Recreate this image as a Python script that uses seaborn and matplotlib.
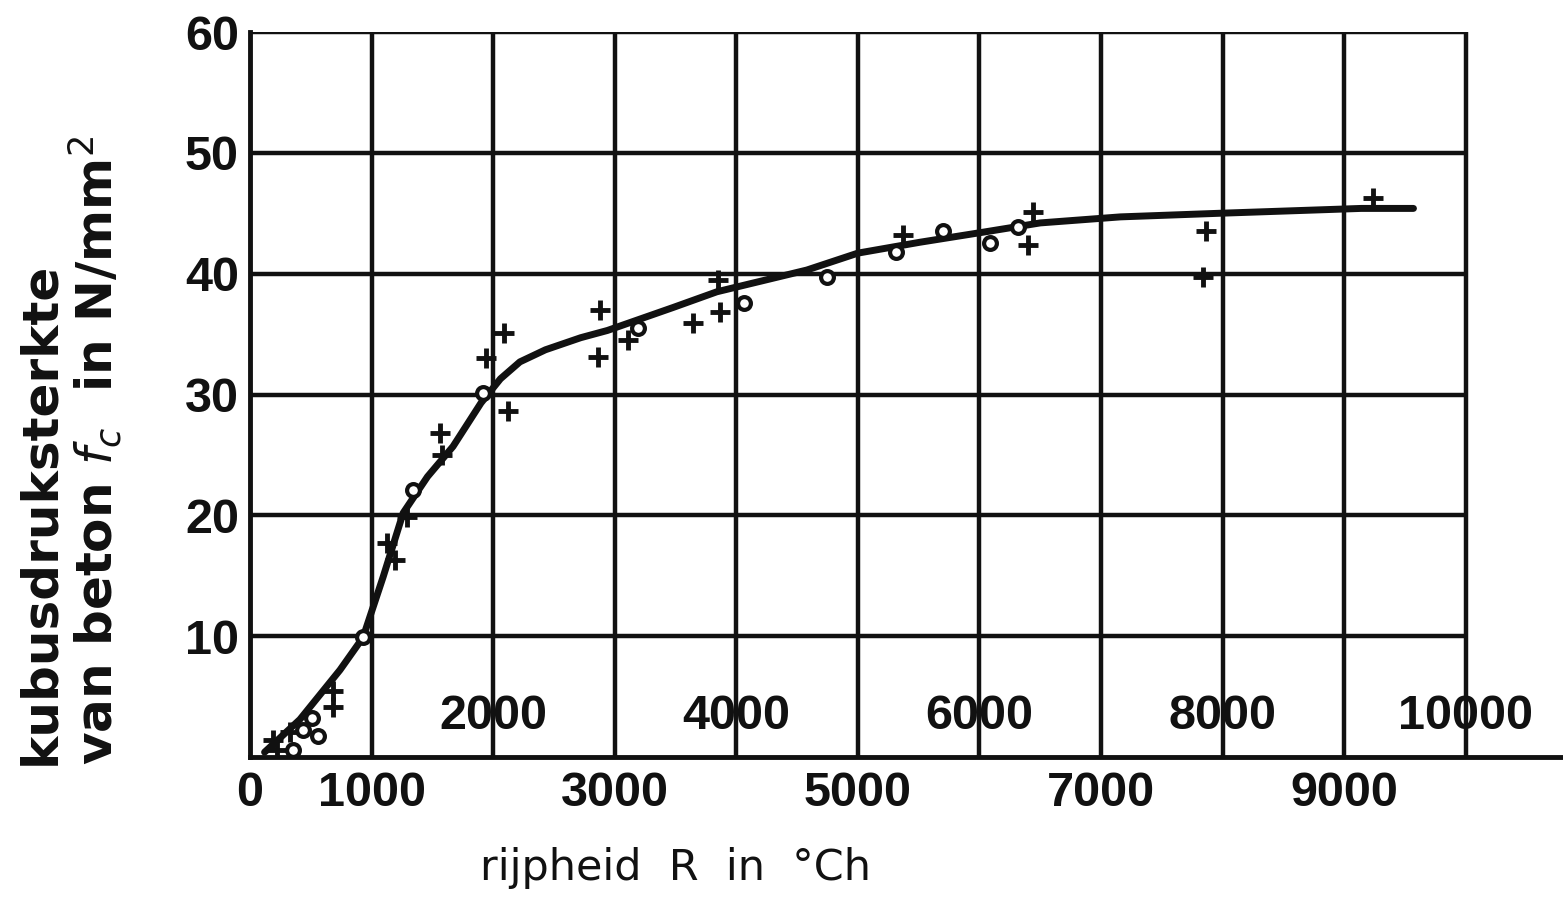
import matplotlib
matplotlib.use("Agg")
import matplotlib.pyplot as plt
import matplotlib.transforms as mtransforms
import seaborn as sns
import pandas as pd

# ---- data ----
curve_x = [120, 410, 740, 930, 1095, 1260, 1460, 1670, 1900, 2060, 2220, 2430, 2720,
           2940, 3480, 3840, 4580, 5000, 5510, 6010, 6500, 7160, 7980, 9140, 9570]
curve_y = [0.4, 3.1, 7.2, 9.9, 14.9, 20.2, 23.2, 25.7, 29.3, 31.3, 32.7, 33.7, 34.7,
           35.3, 37.2, 38.5, 40.3, 41.7, 42.6, 43.4, 44.2, 44.7, 45.0, 45.4, 45.4]

plus_x = [190, 220, 330, 680, 685, 1130, 1190, 1290, 1560, 1580, 1940, 2090, 2120,
          2860, 2880, 3110, 3640, 3850, 3870, 5370, 6400, 6440, 7840, 7860, 9240]
plus_y = [1.4, 0.6, 2.1, 5.5, 4.1, 17.7, 16.3, 19.9, 26.8, 25.0, 33.0, 35.1, 28.6,
          33.1, 37.0, 34.5, 35.9, 39.5, 36.8, 43.2, 42.4, 45.1, 39.7, 43.5, 46.3]

circle_x = [350, 440, 510, 560, 930, 1340, 1920, 3190, 4060, 4750, 5310, 5700, 6090, 6320]
circle_y = [0.6, 2.2, 3.2, 1.7, 9.9, 22.1, 30.1, 35.5, 37.6, 39.7, 41.8, 43.5, 42.5, 43.9]

x_ticks = [0, 1000, 2000, 3000, 4000, 5000, 6000, 7000, 8000, 9000, 10000]
x_labels = ["0", "1000", "2000", "3000", "4000", "5000", "6000", "7000", "8000", "9000", "10000"]
y_ticks = [10, 20, 30, 40, 50, 60]
y_labels = ["10", "20", "30", "40", "50", "60"]

x_title = "rijpheid  R  in  °Ch"
y_title = "kubusdruksterkte\nvan beton $f_c$  in N/mm$^2$"

# ---- figure ----
sns.set_theme(style="white")
plt.rcParams['font.family'] = ['Liberation Sans', 'DejaVu Sans']

fig = plt.figure(figsize=(15.63, 9.16), dpi=100)
ax = fig.add_axes([250 / 1563, 1 - 757 / 916, (1563 - 250) / 1563, (757 - 32) / 916])
ax.set_xlim(0, 10800)
ax.set_ylim(0, 60)

ink = "#111111"
# grid (thick scanned lines)
ax.hlines(y_ticks, 0, x_ticks[-1], color=ink, lw=3.2, zorder=1)
ax.vlines(x_ticks[1:], 0, y_ticks[-1], color=ink, lw=3.2, zorder=1)

# curve
df_curve = pd.DataFrame({"R": curve_x, "fc": curve_y})
sns.lineplot(data=df_curve, x="R", y="fc", sort=False, color=ink, lw=5,
             ax=ax, zorder=3)
ax.lines[-1].set_solid_capstyle("round")
ax.lines[-1].set_solid_joinstyle("round")

# points
df_plus = pd.DataFrame({"R": plus_x, "fc": plus_y})
df_circ = pd.DataFrame({"R": circle_x, "fc": circle_y})
sns.scatterplot(data=df_plus, x="R", y="fc", marker="+", s=200, color=ink,
                linewidth=3.5, ax=ax, zorder=4)
sns.scatterplot(data=df_circ, x="R", y="fc", marker="o", s=85, facecolor="white",
                edgecolor=ink, linewidth=3, ax=ax, zorder=5)

# spines
for s in ["top", "right"]:
    ax.spines[s].set_visible(False)
for s in ["left", "bottom"]:
    ax.spines[s].set_color(ink)
    ax.spines[s].set_linewidth(3.5)

ax.set_xlabel("")
ax.set_ylabel("")
ax.tick_params(length=0)

# y tick labels
ax.set_yticks(y_ticks)
ax.set_yticklabels(y_labels, fontsize=35, fontweight="bold", color=ink)
ax.tick_params(axis="y", pad=8)

# x tick labels: odd thousands (and 0) below axis, even thousands above axis
ax.set_xticks(x_ticks)
ax.set_xticklabels([lab if (i % 2 == 1 or i == 0) else "" for i, lab in enumerate(x_labels)],
                   fontsize=35, fontweight="bold", color=ink)
ax.tick_params(axis="x", pad=10)
trans = mtransforms.blended_transform_factory(ax.transData, ax.transAxes)
offset = mtransforms.offset_copy(trans, fig=fig, x=0, y=18, units="dots")
for i, (xv, lab) in enumerate(zip(x_ticks, x_labels)):
    if i % 2 == 0 and i > 0:
        ax.text(xv, 0, lab, transform=offset, ha="center", va="bottom",
                fontsize=35, fontweight="bold", color=ink)

# axis titles
fig.text(675 / 1563, 1 - 868 / 916, x_title, ha="center", va="center",
         fontsize=31, color=ink, family=["DejaVu Sans"])
fig.text(70 / 1563, 1 - 765 / 916, y_title, ha="center", va="bottom", rotation=90,
         multialignment="left", fontsize=36, fontweight="bold", color=ink,
         family=["DejaVu Sans"], linespacing=1.05)

fig.savefig("out.png", dpi=100, facecolor="white")
